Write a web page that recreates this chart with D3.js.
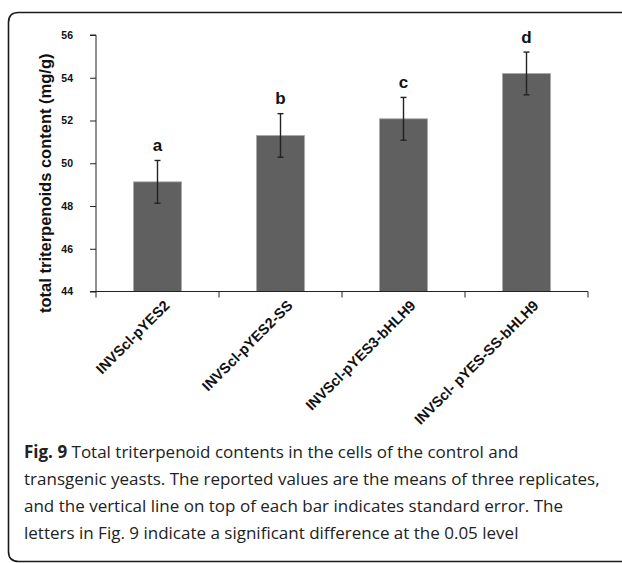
<!DOCTYPE html>
<html>
<head>
<meta charset="utf-8">
<script src="https://cdn.jsdelivr.net/npm/d3@7/dist/d3.min.js"></script>
<style>
  html, body { margin: 0; padding: 0; background: #fff; }
  svg { display: block; }
</style>
</head>
<body>
<svg id="fig" width="622" height="563"></svg>
<script>
// Strains, mean total triterpenoid content (mg/g), standard errors and significance letters
const categories = ["INVScl-pYES2", "INVScl-pYES2-SS", "INVScl-pYES3-bHLH9", "INVScl- pYES-SS-bHLH9"];
const means = [49.13, 51.3, 52.08, 54.2];
const errors = [1.0, 1.02, 1.0, 1.0];
const sigLetters = ["a", "b", "c", "d"];
const yTicks = [44, 46, 48, 50, 52, 54, 56];
const yTitle = "total triterpenoids content (mg/g)";
const captionLines = [
  [["Fig. 9", true], [" Total triterpenoid contents in the cells of the control and", false]],
  [["transgenic yeasts. The reported values are the means of three replicates,", false]],
  [["and the vertical line on top of each bar indicates standard error. The", false]],
  [["letters in Fig. 9 indicate a significant difference at the 0.05 level", false]]
];

const svg = d3.select("#fig");

// Rounded frame around figure and caption (open to the right)
svg.append("path")
  .attr("d", "M 640 12.5 L 18.5 12.5 Q 8.5 12.5 8.5 22.5 L 8.5 551.5 Q 8.5 561.5 18.5 561.5 L 640 561.5")
  .attr("fill", "none")
  .attr("stroke", "#1a1a1a")
  .attr("stroke-width", 1.6);

const plot = { left: 96, right: 588, top: 35, bottom: 291.5 };

const x = d3.scaleBand()
  .domain(categories)
  .range([plot.left, plot.right])
  .paddingInner(0.61)
  .paddingOuter(0.305);

const y = d3.scaleLinear()
  .domain([44, 56])
  .range([plot.bottom, plot.top]);

const axisFont = "Arial, 'Liberation Sans', sans-serif";

// Bars
svg.append("g").selectAll("rect")
  .data(categories)
  .join("rect")
  .attr("x", d => x(d))
  .attr("y", (d, i) => y(means[i]))
  .attr("width", x.bandwidth())
  .attr("height", (d, i) => y(44) - y(means[i]))
  .attr("fill", "#606060")
  .attr("stroke", "#a8a8a8")
  .attr("stroke-width", 0.8);

// Error bars
const eb = svg.append("g").attr("stroke", "#222").attr("stroke-width", 1.4);
categories.forEach((c, i) => {
  const cx = x(c) + x.bandwidth() / 2;
  const top = y(means[i] + errors[i]);
  const bot = y(means[i] - errors[i]);
  eb.append("line").attr("x1", cx).attr("x2", cx).attr("y1", top).attr("y2", bot);
  eb.append("line").attr("x1", cx - 3).attr("x2", cx + 3).attr("y1", top).attr("y2", top);
  eb.append("line").attr("x1", cx - 3).attr("x2", cx + 3).attr("y1", bot).attr("y2", bot);
});

// Significance letters
svg.append("g").selectAll("text")
  .data(categories)
  .join("text")
  .attr("x", d => x(d) + x.bandwidth() / 2)
  .attr("y", (d, i) => y(means[i] + errors[i]) - 9.5)
  .attr("text-anchor", "middle")
  .attr("font-family", axisFont)
  .attr("font-weight", "bold")
  .attr("font-size", 17)
  .attr("fill", "#111")
  .text((d, i) => sigLetters[i]);

// Y axis
const yAxis = svg.append("g")
  .attr("transform", `translate(${plot.left},0)`)
  .call(d3.axisLeft(y).tickValues(yTicks).tickSize(6).tickPadding(17).tickFormat(d3.format("d")));
yAxis.select(".domain").attr("stroke", "#222").attr("d", `M-6,${plot.top}H0V${plot.bottom}H-6`);
yAxis.selectAll(".tick line").attr("stroke", "#222");
yAxis.selectAll(".tick text")
  .attr("font-family", axisFont)
  .attr("font-weight", "bold")
  .attr("font-size", 10.5)
  .attr("fill", "#111");

// X axis with ticks at category boundaries
const xAxis = svg.append("g")
  .attr("transform", `translate(0,${plot.bottom})`)
  .call(d3.axisBottom(x).tickSize(0).tickFormat(""));
xAxis.select(".domain").attr("stroke", "#222").attr("d", `M${plot.left},0H${plot.right}`);
const boundaries = d3.range(categories.length + 1).map(i => plot.left + i * (plot.right - plot.left) / categories.length);
xAxis.selectAll(".bound")
  .data(boundaries)
  .join("line")
  .attr("class", "bound")
  .attr("x1", d => d).attr("x2", d => d)
  .attr("y1", 0).attr("y2", 6)
  .attr("stroke", "#222");

// Rotated category labels
svg.append("g").selectAll("text")
  .data(categories)
  .join("text")
  .attr("transform", d => `translate(${x(d) + x.bandwidth() / 2 + 13},${plot.bottom + 15}) rotate(-45)`)
  .attr("text-anchor", "end")
  .attr("font-family", axisFont)
  .attr("font-weight", "bold")
  .attr("font-size", 14.5)
  .attr("fill", "#111")
  .text(d => d);

// Y axis title
svg.append("text")
  .attr("transform", `translate(51,${(plot.top + plot.bottom) / 2 + 20}) rotate(-90)`)
  .attr("text-anchor", "middle")
  .attr("font-family", axisFont)
  .attr("font-weight", "bold")
  .attr("font-size", 16.5)
  .attr("fill", "#111")
  .text(yTitle);

// Caption
const cap = svg.append("text")
  .attr("font-family", "'Open Sans', 'Noto Sans', sans-serif")
  .attr("font-size", 17)
  .attr("fill", "#222");
captionLines.forEach((line, li) => {
  line.forEach(([txt, bold], si) => {
    const ts = cap.append("tspan").text(txt).attr("font-weight", bold ? "bold" : "normal");
    if (si === 0) ts.attr("x", 24).attr("y", 458 + li * 27);
  });
});
</script>
</body>
</html>
